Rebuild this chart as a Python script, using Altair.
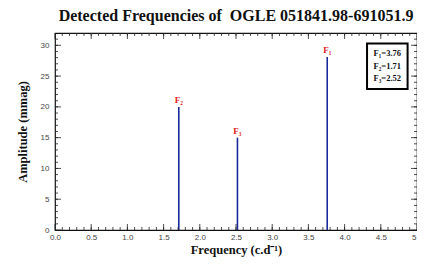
import altair as alt
import pandas as pd

freqs = [3.76, 1.71, 2.52]
amps = [28.1, 20.0, 15.0]
names = ["F\u2081", "F\u2082", "F\u2083"]
legend_lines = ["F\u2081=3.76", "F\u2082=1.71", "F\u2083=2.52"]
x_ticks = [round(i * 0.5, 1) for i in range(11)]
y_ticks = [0, 5, 10, 15, 20, 25, 30]

W, H = 362, 197
XMAX, YMAX = 5.0, 32.0

df = pd.DataFrame({"f": freqs, "a": amps, "name": names})

xs = alt.Scale(domain=[0, XMAX], nice=False, zero=False)
ys = alt.Scale(domain=[0, YMAX], nice=False)

serif = "Liberation Serif"

xaxis = alt.Axis(values=x_ticks, format=".1f", tickSize=0, labelPadding=3, domain=False,
                 grid=False, labelFont="Liberation Sans", labelFontSize=8, labelColor="#444",
                 labelOverlap=False, labelFlush=False,
                 title="Frequency (c.d\u207b\u00b9)", titleFont=serif, titleFontSize=12.5,
                 titleFontWeight="bold", titlePadding=2, titleColor="#111")
yaxis = alt.Axis(values=y_ticks, tickSize=0, labelPadding=6, domain=False, grid=False,
                 labelFont="Liberation Sans", labelFontSize=8, labelColor="#444",
                 labelOverlap=False, labelFlush=False,
                 title="Amplitude (mmag)", titleFont=serif, titleFontSize=12.5,
                 titleFontWeight="bold", titlePadding=11, titleColor="#111")

def X(f):
    return alt.X(f, scale=xs, axis=xaxis)

def Y(f):
    return alt.Y(f, scale=ys, axis=yaxis)

base = alt.Chart(df)

lines = base.mark_rule(color="#1a2a9a", strokeWidth=1.6).encode(
    x=X("f:Q"), y=Y("a:Q"), y2=alt.datum(0))

labels = base.mark_text(color="#e02020", font=serif, fontWeight="bold", fontSize=9,
                        dy=-7).encode(x=X("f:Q"), y=Y("a:Q"), text="name:N")

# ticks (inward, all four sides)
xminor = pd.DataFrame({"v": [i / 10 for i in range(1, 50)]})
xmajor = pd.DataFrame({"v": x_ticks})
yminor = pd.DataFrame({"v": list(range(1, 32))})
ymajor = pd.DataFrame({"v": y_ticks})

def xt(d, ln):
    b = alt.Chart(d).mark_rule(color="#222", strokeWidth=0.8)
    return (b.encode(x=X("v:Q"), y=alt.value(H), y2=alt.value(H - ln)) +
            b.encode(x=X("v:Q"), y=alt.value(0), y2=alt.value(ln)))

def yt(d, ln):
    b = alt.Chart(d).mark_rule(color="#222", strokeWidth=0.8)
    return (b.encode(y=Y("v:Q"), x=alt.value(0), x2=alt.value(ln)) +
            b.encode(y=Y("v:Q"), x=alt.value(W), x2=alt.value(W - ln)))

ticks = xt(xminor, 3) + xt(xmajor, 6) + yt(yminor, 3) + yt(ymajor, 6)

box = alt.Chart(pd.DataFrame({"x1": [4.31], "x2": [4.87], "y1": [22.9], "y2": [30.3]})).mark_rect(
    fill="white", stroke="black", strokeWidth=2).encode(
    x=X("x1:Q"), x2="x2:Q", y=Y("y1:Q"), y2="y2:Q")

leg = alt.Chart(pd.DataFrame({"t": legend_lines, "x": [4.59] * 3, "y": [28.7, 26.7, 24.7]})).mark_text(
    font=serif, fontWeight="bold", fontSize=8.5, color="#111").encode(
    x=X("x:Q"), y=Y("y:Q"), text="t:N")

chart = alt.layer(lines, ticks, labels, box, leg).properties(
    width=W, height=H,
    title=alt.TitleParams("Detected Frequencies of\u00a0 OGLE 051841.98-691051.9", font=serif,
                          fontSize=16, fontWeight="bold", color="#111", anchor="middle", offset=9),
    autosize=alt.AutoSizeParams(type="none"),
    padding={"left": 47, "top": 25, "right": 0, "bottom": 31},
).configure_view(stroke="#111", strokeWidth=1.2)

chart.save("out.html", embed_options={"renderer": "svg", "actions": False})
